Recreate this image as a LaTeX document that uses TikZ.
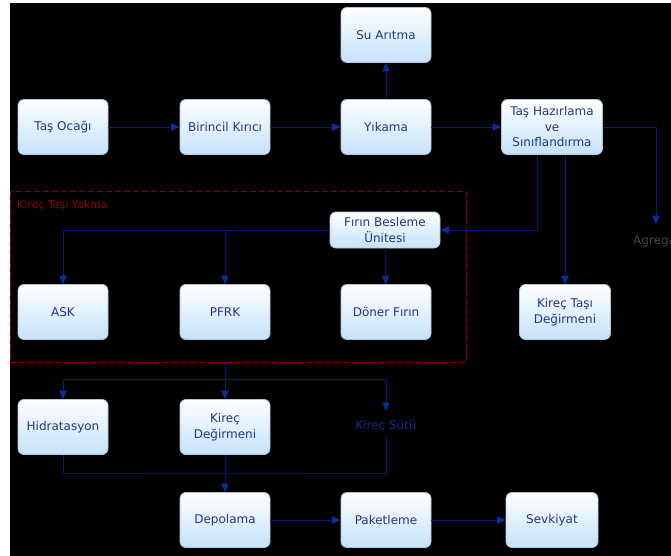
\documentclass[tikz,border=0pt]{standalone}
\usepackage{fontspec}
\setmainfont{DejaVu Sans}
\usetikzlibrary{arrows.meta,calc}
\definecolor{linecol}{RGB}{8,30,115}
\definecolor{arrcol}{RGB}{10,45,150}
\definecolor{txtcol}{RGB}{35,55,135}
\definecolor{sutcol}{RGB}{25,45,140}
\definecolor{boxblue}{RGB}{196,226,250}
\definecolor{boxedge}{RGB}{185,195,215}
\definecolor{darkredcol}{RGB}{140,0,0}
\definecolor{agrcol}{RGB}{70,70,70}
\tikzset{
  procbox/.style={draw=boxedge, line width=0.8pt, rounded corners=6pt,
    top color=white, bottom color=boxblue, minimum width=90pt, minimum height=55pt,
    inner sep=0pt, align=center, text=txtcol, font=\fontsize{12}{15.5}\selectfont},
  arr/.style={draw=linecol, line width=0.8pt, -{Triangle[width=7.5pt,length=8.5pt,color=arrcol]}},
  conn/.style={draw=linecol, line width=0.8pt},
}
\begin{document}
\begin{tikzpicture}[x=1pt,y=-1pt]
\useasboundingbox (0,0) rectangle (671,556);
\begin{scope}
\clip (0,0) rectangle (671,556);
\fill[white] (0,0) rectangle (671,556);
\fill[black] (10,3) rectangle (671,556);

% nodes
\node[procbox] (su) at (386,35) {Su Arıtma};
\node[procbox] (tas) at (63,127) {Taş Ocağı};
\node[procbox] (bir) at (225,127) {Birincil Kırıcı};
\node[procbox] (yik) at (386,127) {Yıkama};
\node[procbox, minimum width=101pt] (haz) at (552,127) {Taş Hazırlama\\ve\\Sınıflandırma};

\draw[darkredcol, line width=1pt, dash pattern=on 6pt off 3pt] (10,191) rectangle (466,362);
\node[anchor=west, text=darkredcol, font=\fontsize{11}{13}\selectfont, inner sep=0pt] (yakma) at (17,205) {Kireç Taşı Yakma};

\node[procbox, minimum width=110pt, minimum height=36pt] (firin) at (385,230) {Fırın Besleme\\Ünitesi};
\node[procbox] (ask) at (63,312) {ASK};
\node[procbox] (pfrk) at (225,312) {PFRK};
\node[procbox] (doner) at (386,312) {Döner Fırın};
\node[procbox, minimum width=91pt] (ktd) at (565,312) {Kireç Taşı\\Değirmeni};

\node[anchor=west, text=agrcol, font=\fontsize{12}{14}\selectfont, inner sep=0pt] (agr) at (633,241) {Agrega};

\node[procbox] (hid) at (63,427) {Hidratasyon};
\node[procbox] (kd) at (225,427) {Kireç\\Değirmeni};
\node[text=sutcol, font=\fontsize{12}{14}\selectfont, inner sep=0pt] (sut) at (386,426) {Kireç Sütü};

\node[procbox] (dep) at (225,520) {Depolama};
\node[procbox] (pak) at (386,520) {Paketleme};
\node[procbox, minimum width=92pt] (sev) at (552,520) {Sevkiyat};

% coordinates
\coordinate (agrtip) at (656,224);
\coordinate (yb) at (225,362);
\coordinate (bus) at (225,379);
\coordinate (suttop) at (386,411);
\coordinate (sutbot) at (386,436);
\coordinate (bot) at (225,473);

% connectors
\draw[arr] (tas) -- (bir);
\draw[arr] (bir) -- (yik);
\draw[arr] (yik) -- (haz);
\draw[arr] (yik) -- (su);
\draw[arr] (haz.east) -| (agrtip);
\draw[arr] ($(haz.south)+(-15,0)$) |- (firin.east);
\draw[arr] (ktd.north |- haz.south) -- (ktd.north);
\draw[arr] (firin.west) -| (ask.north);
\draw[arr] (pfrk.north |- firin.west) -- (pfrk.north);
\draw[arr] (firin) -- (doner);

\draw[conn] (yb) -- (bus);
\draw[arr] (bus) -| (hid.north);
\draw[arr] (bus) -- (kd.north);
\draw[arr] (bus) -| (suttop);
\draw[conn] (hid.south) |- (bot) -| (sutbot);
\draw[arr] (kd.south) -- (dep.north);
\draw[arr] (dep) -- (pak);
\draw[arr] (pak) -- (sev);
\end{scope}
\end{tikzpicture}
\end{document}
